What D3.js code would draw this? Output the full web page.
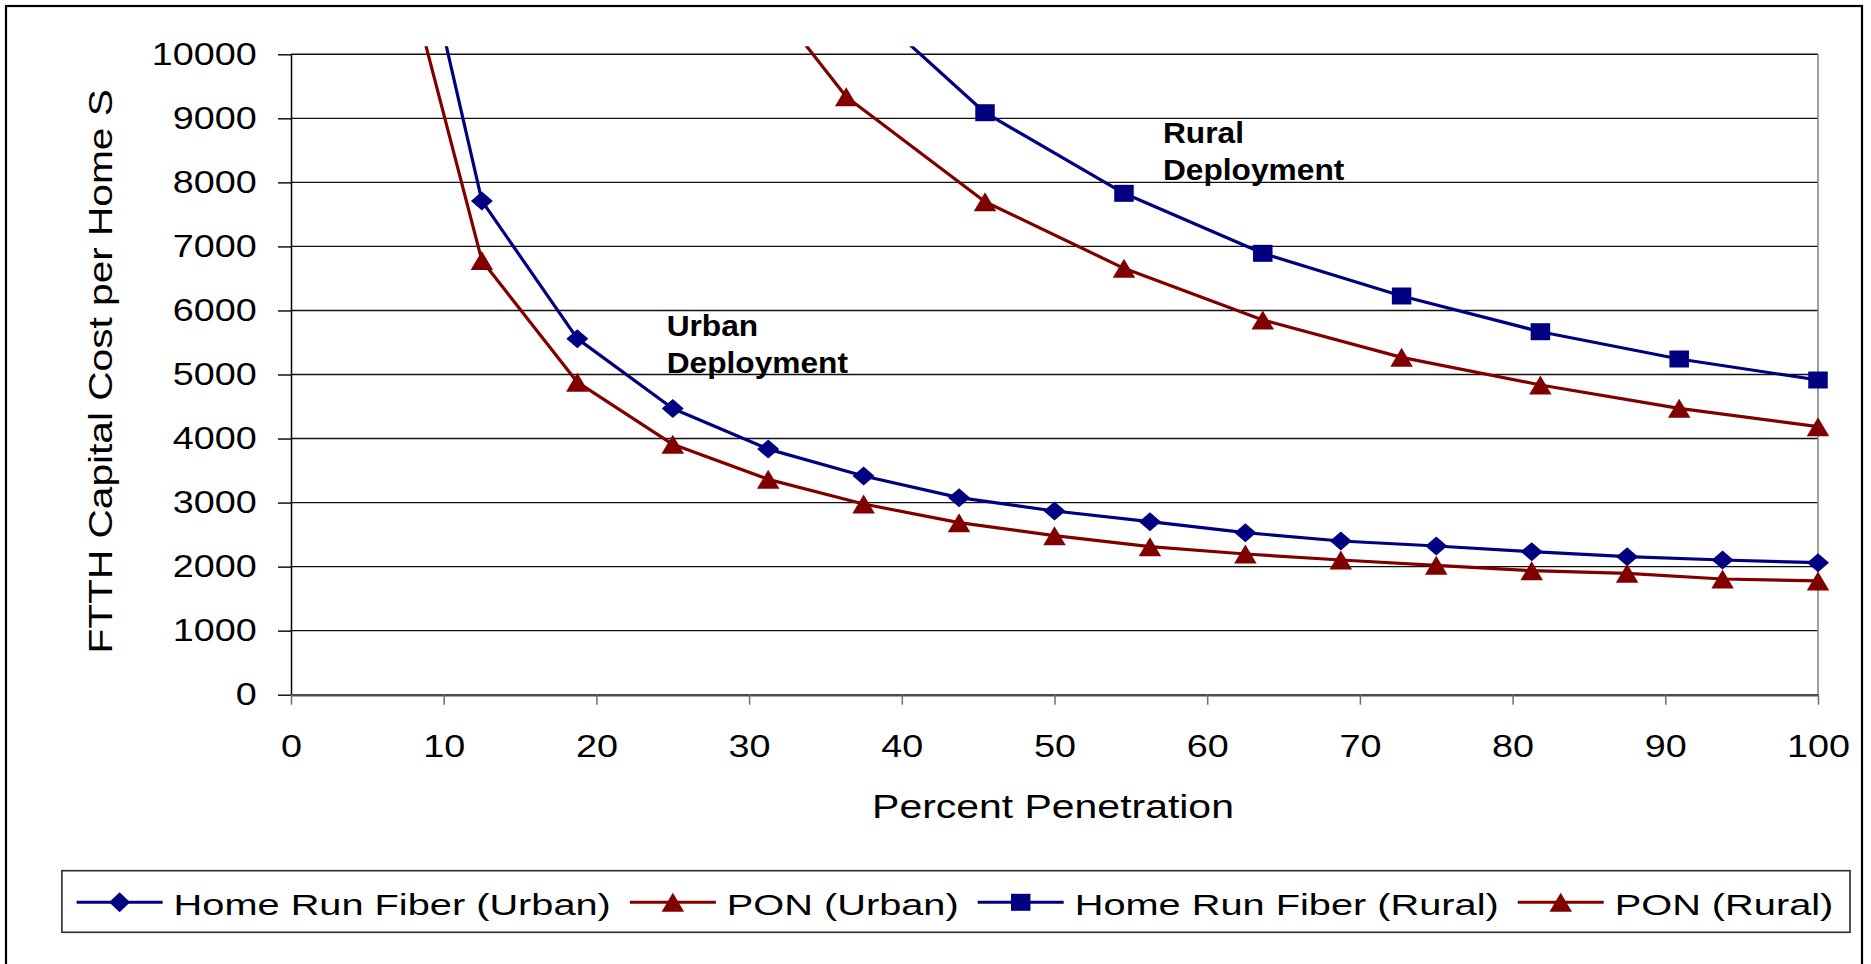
<!DOCTYPE html>
<html>
<head>
<meta charset="utf-8">
<script src="https://cdn.jsdelivr.net/npm/d3@7"></script>
<style>
  html, body { margin: 0; padding: 0; background: #fff; }
  svg { display: block; font-family: "Liberation Sans", Arial, Helvetica, sans-serif; }
</style>
</head>
<body>
<svg id="chart" width="1871" height="964"></svg>
<script>
// Penetration (%) at which each deployment was costed
const urbanPct = [6.25, 12.5, 18.75, 25, 31.25, 37.5, 43.75, 50, 56.25, 62.5, 68.75, 75, 81.25, 87.5, 93.75, 100];
const ruralPct = [27.27, 36.36, 45.45, 54.55, 63.64, 72.73, 81.82, 90.91, 100];

// FTTH capital cost per home ($)
const homeRunUrban = [14200, 7710, 5560, 4470, 3835, 3415, 3077, 2869, 2702, 2530, 2400, 2322, 2233, 2155, 2103, 2061];
const ponUrban     = [12500, 6780, 4880, 3910, 3363, 2978, 2686, 2483, 2311, 2197, 2103, 2020, 1936, 1895, 1807, 1776];
const homeRunRural = [null, 11050, 9088, 7829, 6892, 6226, 5668, 5242, 4914];
const ponRural     = [12100, 9338, 7698, 6658, 5851, 5268, 4836, 4472, 4185];

const seriesNames = ["Home Run Fiber (Urban)", "PON (Urban)", "Home Run Fiber (Rural)", "PON (Rural)"];
const xTicks = [0, 10, 20, 30, 40, 50, 60, 70, 80, 90, 100];
const yTicks = [0, 1000, 2000, 3000, 4000, 5000, 6000, 7000, 8000, 9000, 10000];
// annotation anchors: left edge (percent) and first baseline (cost)
const notes = [
  { lines: ["Urban", "Deployment"], x: 24.6, y: 5600 },
  { lines: ["Rural", "Deployment"], x: 57.1, y: 8610 }
];

const NAVY = "#000080", MAROON = "#800000";

const svg = d3.select("#chart");
const x = d3.scaleLinear().domain([0, 100]).range([291, 1818]);
const y = d3.scaleLinear().domain([0, 10000]).range([694.7, 54.3]);

// Re-anchor a text element at its own position and widen it horizontally
function widen(sel, sx) {
  sel.each(function () {
    const t = d3.select(this);
    const tx = +t.attr("x") || 0, ty = +t.attr("y") || 0;
    t.attr("x", 0).attr("y", 0).attr("transform", `translate(${tx},${ty}) scale(${sx},1)`);
  });
}

// outer frame
svg.append("rect")
  .attr("x", 6).attr("y", 6).attr("width", 1856).attr("height", 990)
  .attr("fill", "none").attr("stroke", "#000").attr("stroke-width", 2.2);

// horizontal gridlines
svg.append("g").selectAll("line").data(yTicks).join("line")
  .attr("x1", x(0)).attr("x2", x(100))
  .attr("y1", d => y(d)).attr("y2", d => y(d))
  .attr("stroke", "#111").attr("stroke-width", 1.4);

// right edge of the plot area
svg.append("line")
  .attr("x1", x(100)).attr("x2", x(100)).attr("y1", y(10000)).attr("y2", y(0))
  .attr("stroke", "#808080").attr("stroke-width", 1.5);

// y axis
const yAxis = svg.append("g")
  .attr("transform", `translate(${x(0)},0)`)
  .call(d3.axisLeft(y).tickValues(yTicks).tickFormat(d3.format("d")).tickSizeInner(13).tickSizeOuter(0).tickPadding(21.3));
yAxis.select(".domain").attr("stroke", "#000").attr("stroke-width", 1.5);
yAxis.selectAll(".tick line").attr("stroke", "#000").attr("stroke-width", 1.4);
yAxis.selectAll("text").attr("font-size", 32).attr("fill", "#000").attr("font-family", null);
widen(yAxis.selectAll("text"), 1.18);

// x axis
const xAxis = svg.append("g")
  .attr("transform", `translate(0,${y(0)})`)
  .call(d3.axisBottom(x).tickValues(xTicks).tickFormat(d3.format("d")).tickSizeInner(10).tickSizeOuter(0).tickPadding(29.6));
xAxis.select(".domain").attr("stroke", "#4d4d4d").attr("stroke-width", 2.6);
xAxis.selectAll(".tick line").attr("stroke", "#6e6e6e").attr("stroke-width", 1.5);
xAxis.selectAll("text").attr("font-size", 32).attr("fill", "#000").attr("font-family", null);
widen(xAxis.selectAll("text"), 1.18);

// axis titles
svg.append("text")
  .attr("transform", `translate(1053,818.3) scale(1.26,1)`)
  .attr("text-anchor", "middle").attr("font-size", 32.5)
  .text("Percent Penetration");

svg.append("text")
  .attr("transform", `translate(111.6,371.4) rotate(-90) scale(1.195,1)`)
  .attr("text-anchor", "middle").attr("font-size", 34)
  .text("FTTH Capital Cost per Home S");

// marker shapes, w x h box centred on the point
function markerPath(shape, w, h) {
  const a = w / 2, b = h / 2;
  if (shape === "diamond") return `M0,${-b}L${a},0L0,${b}L${-a},0Z`;
  if (shape === "triangle") return `M0,${-b}L${a},${b}L${-a},${b}Z`;
  return `M${-a},${-b}H${a}V${b}H${-a}Z`;
}

const series = [
  { name: seriesNames[0], pct: urbanPct, val: homeRunUrban, color: NAVY,   shape: "diamond",  w: 22, h: 19 },
  { name: seriesNames[1], pct: urbanPct, val: ponUrban,     color: MAROON, shape: "triangle", w: 22.5, h: 19 },
  { name: seriesNames[2], pct: ruralPct, val: homeRunRural, color: NAVY,   shape: "square",   w: 19.5, h: 17 },
  { name: seriesNames[3], pct: ruralPct, val: ponRural,     color: MAROON, shape: "triangle", w: 22.5, h: 19 }
];

svg.append("defs").append("clipPath").attr("id", "plotClip")
  .append("rect").attr("x", x(0)).attr("y", y(10000) - 8)
  .attr("width", x(100) - x(0) + 4).attr("height", y(0) - y(10000) + 8);

const line = d3.line()
  .x(d => x(d[0])).y(d => y(d[1]));

const plot = svg.append("g");
series.forEach(s => {
  const pts = s.pct.map((p, i) => [p, s.val[i]]).filter(d => d[1] != null);
  plot.append("path")
    .attr("clip-path", "url(#plotClip)")
    .attr("d", line(pts))
    .attr("fill", "none").attr("stroke", s.color).attr("stroke-width", 3.2)
    .attr("stroke-linejoin", "round");
});
series.forEach(s => {
  const pts = s.pct.map((p, i) => [p, s.val[i]]).filter(d => d[1] != null && d[1] <= 10000);
  plot.append("g").selectAll("path").data(pts).join("path")
    .attr("transform", d => `translate(${x(d[0])},${y(d[1])})`)
    .attr("d", markerPath(s.shape, s.w, s.h))
    .attr("fill", s.color);
});

// deployment annotations
notes.forEach(n => {
  const t = svg.append("text")
    .attr("transform", `translate(${x(n.x)},${y(n.y)}) scale(1.075,1)`)
    .attr("font-size", 29.5).attr("font-weight", "bold");
  n.lines.forEach((l, i) => t.append("tspan").attr("x", 0).attr("dy", i ? 36.7 : 0).text(l));
});

// legend
const legend = svg.append("g");
legend.append("rect")
  .attr("x", 61.9).attr("y", 870.7).attr("width", 1850 - 61.9).attr("height", 932.3 - 870.7)
  .attr("fill", "#fff").attr("stroke", "#2b2b2b").attr("stroke-width", 1.6);

const legendScale = 1.325;
let lx = 76.6;
const ly = 902.3;
series.forEach(s => {
  legend.append("line")
    .attr("x1", lx).attr("x2", lx + 86).attr("y1", ly).attr("y2", ly)
    .attr("stroke", s.color).attr("stroke-width", 3);
  legend.append("path")
    .attr("transform", `translate(${lx + 43},${ly})`)
    .attr("d", markerPath(s.shape, s.shape === "diamond" ? 21 : s.w, s.shape === "diamond" ? 20 : s.h))
    .attr("fill", s.color);
  const t = legend.append("text")
    .attr("transform", `translate(${lx + 97},915) scale(${legendScale},1)`)
    .attr("font-size", 30).text(s.name);
  lx += 97 + t.node().getComputedTextLength() * legendScale + 19;
});
</script>
</body>
</html>
